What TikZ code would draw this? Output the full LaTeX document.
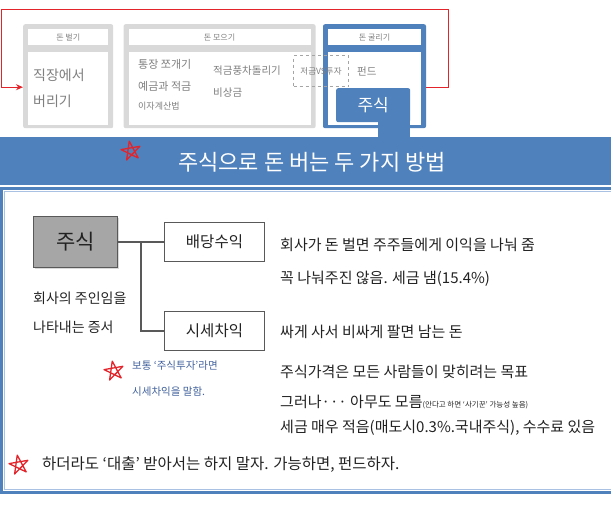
\documentclass[tikz,border=0pt]{standalone}
\usepackage{fontspec}
\setmainfont{Noto Sans CJK KR}
\usetikzlibrary{arrows.meta,positioning,shadows}

\definecolor{blu}{HTML}{4F81BD}
\definecolor{lblue}{HTML}{A9C1E2}
\definecolor{lgray}{HTML}{D9D9D9}
\definecolor{tgray}{HTML}{7F7F7F}
\definecolor{redd}{HTML}{E3242B}
\definecolor{notebl}{HTML}{41619C}
\definecolor{boxgray}{HTML}{A6A6A6}
\definecolor{dgray}{HTML}{595959}
\definecolor{ink}{HTML}{222222}

\begin{document}
\begin{tikzpicture}[
  x=1pt,y=-1pt,
  node distance=8pt,
  panel/.style={fill=#1,rounded corners=2pt,minimum height=104pt,inner sep=0pt,anchor=north west},
  hd/.style={fill=white,minimum height=16pt,inner sep=0pt,font=\fontsize{8}{9}\selectfont,text=tgray},
  bd/.style={fill=white,minimum height=73pt,inner sep=0pt},
  ptxt/.style={anchor=west,inner sep=0pt,text=tgray,font=\fontsize{#1}{#1}\selectfont},
  sbox/.style={fill=boxgray,draw=dgray,line width=1pt,minimum width=84pt,minimum height=51pt,
    font=\fontsize{21}{24}\selectfont,text=ink,drop shadow={opacity=0.3,shadow xshift=1.5pt,shadow yshift=-1.5pt}},
  kbox/.style={draw=dgray,line width=1pt,fill=white,minimum width=100pt,minimum height=39pt,
    font=\fontsize{15.5}{17}\selectfont,text=ink},
  conn/.style={draw=dgray,line width=1.2pt},
  txt/.style={anchor=west,inner sep=0pt,text=ink,font=\fontsize{#1}{#1}\selectfont},
  note/.style={anchor=west,inner sep=0pt,text=notebl,font=\fontsize{10.5}{12}\selectfont},
  loopline/.style={redd,line width=1pt,-{Stealth[length=7pt,width=6pt]}},
  rstar/.pic={\draw[redd,line width=1.3pt,line join=round]
    (100:10pt) -- (244:10pt) -- (28:10pt) -- (172:10pt) -- (316:10pt) -- cycle;}
]
\useasboundingbox (0,0) rectangle (611,504);

% top panels
\node[panel=lgray,minimum width=90pt] (pan1) at (23,24) {};
\node[panel=lgray,minimum width=192pt,right=10pt of pan1] (pan2) {};
\node[panel=blu,minimum width=103pt,right=7pt of pan2] (pan3) {};
\node[hd,minimum width=80pt,below=5pt of pan1.north] (hd1) {돈 벌기};
\node[hd,minimum width=182pt,below=5pt of pan2.north] (hd2) {돈 모으기};
\node[hd,minimum width=93pt,below=5pt of pan3.north] (hd3) {돈 굴리기};
\node[bd,minimum width=80pt,below=6pt of hd1] (bd1) {};
\node[bd,minimum width=182pt,below=6pt of hd2] (bd2) {};
\node[bd,minimum width=93pt,below=6pt of hd3] (bd3) {};

\node[ptxt=14] (job1) at (33,75) {직장에서};
\node[ptxt=14] (job2) at (33,101) {버리기};
\node[ptxt=11] (save1) at (138,64) {통장 쪼개기};
\node[ptxt=11] (save2) at (138,86) {예금과 적금};
\node[ptxt=9] (save3) at (138,106) {이자계산법};
\node[ptxt=10.5] (save4) at (213,71) {적금풍차돌리기};
\node[ptxt=10.5] (save5) at (213,93) {비상금};
\node[draw=tgray!70,dashed,line width=1pt,minimum width=55pt,minimum height=31pt,inner sep=0pt,
  anchor=north west,text=tgray,font=\fontsize{8.5}{9}\selectfont] (vs) at (293,55) {저금VS투자};
\node[ptxt=10.5] (fund) at (357,71) {펀드};

% red loop
\draw[loopline] ([yshift=-11pt]pan3.east) -- ++(22,0) |- (1,9) |- ([yshift=-11pt]pan1.west);

% banner
\node[fill=blu,minimum width=611pt,minimum height=48pt,inner sep=0pt,anchor=north west] (banner) at (0,137) {};
\node[text=white,font=\fontsize{22}{26}\selectfont] (title) at (312,162) {주식으로 돈 버는 두 가지 방법};
\pic at (131,151) {rstar};

% stock box and stem
\fill[blu] (378,118) rectangle (410,140);
\node[fill=blu,rounded corners=2pt,minimum width=74pt,minimum height=34pt,anchor=north west,
  text=white,font=\fontsize{17}{20}\selectfont] (stk) at (336,88) {주식};

% content frame
\draw[blu,line width=3pt] (1.5,188.5) rectangle (630,492.5);
\draw[lblue,line width=0.8pt] (4.5,191.5) rectangle (630,489.5);

% tree
\node[sbox,anchor=north west] (stock) at (33,216) {주식};
\node[kbox,right=46pt of stock] (divd) {배당수익};
\node[kbox,below=49pt of divd] (diff) {시세차익};
\draw[conn] (stock) -- (divd);
\draw[conn] ([xshift=23pt]stock.east) |- (diff);

\node[txt=14] (own1) at (33,298) {회사의 주인임을};
\node[txt=14] (own2) at (33,327) {나타내는 증서};

\pic at (114,371) {rstar};
\node[note] (nt1) at (132,366) {보통 ‘주식투자’라면};
\node[note] (nt2) at (132,392) {시세차익을 말함.};

% right column
\node[txt=15] (r1) at (280,245) {회사가 돈 벌면 주주들에게 이익을 나눠 줌};
\node[txt=15] (r2) at (280,279) {꼭 나눠주진 않음. 세금 냄(15.4\%)};
\node[txt=15] (r3) at (280,332) {싸게 사서 비싸게 팔면 남는 돈};
\node[txt=15] (r4) at (280,372) {주식가격은 모든 사람들이 맞히려는 목표};
\node[txt=15] (r5) at (280,402) {그러나··· 아무도 모름{\fontsize{7.5}{8}\selectfont(안다고 하면 ‘사기꾼’ 가능성 높음)}};
\node[txt=15] (r6) at (280,428) {세금 매우 적음(매도시0.3\%.국내주식), 수수료 있음};

% bottom
\pic at (19,465) {rstar};
\node[txt=15.5] (last) at (42,465) {하더라도 ‘대출’ 받아서는 하지 말자. 가능하면, 펀드하자.};
\end{tikzpicture}
\end{document}
